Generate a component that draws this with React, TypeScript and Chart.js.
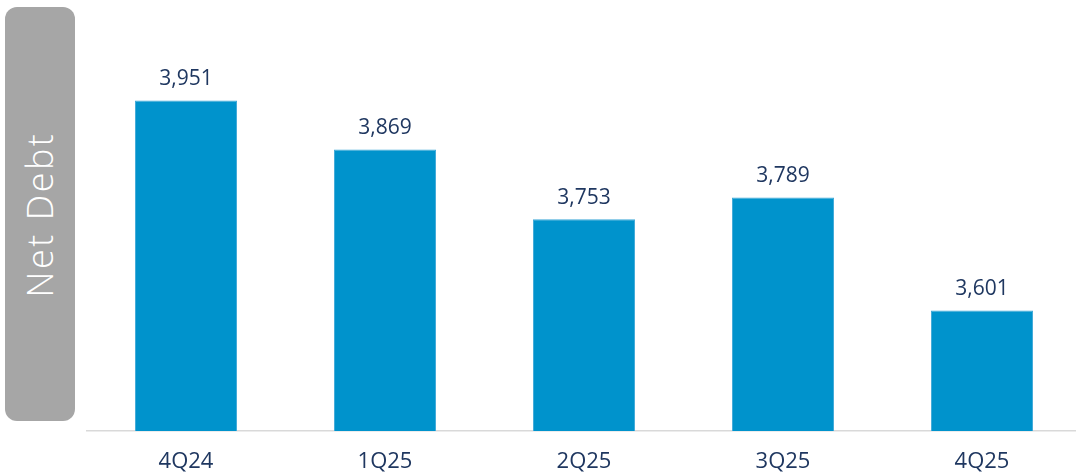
import React, { useEffect, useRef } from "react";
import { Chart, registerables } from "chart.js";

Chart.register(...registerables);

const categories: string[] = ["4Q24", "1Q25", "2Q25", "3Q25", "4Q25"];
const netDebt: number[] = [3951, 3869, 3753, 3789, 3601];
const axisTitle = "Net Debt";

const FONT = "'Open Sans', 'DejaVu Sans', sans-serif";

const valueLabels = {
  id: "valueLabels",
  afterDatasetsDraw(chart: any) {
    const ctx = chart.ctx;
    const meta = chart.getDatasetMeta(0);
    ctx.save();
    ctx.font = `400 21px ${FONT}`;
    ctx.fillStyle = "#1F3760";
    ctx.textAlign = "center";
    ctx.textBaseline = "bottom";
    meta.data.forEach((bar: any, i: number) => {
      const v = chart.data.datasets[0].data[i] as number;
      ctx.fillText(v.toLocaleString("en-US"), bar.x, bar.y - 11);
    });
    ctx.restore();
  },
};

export default function App() {
  const ref = useRef<HTMLCanvasElement | null>(null);

  useEffect(() => {
    if (!ref.current) return;
    const chart = new Chart(ref.current, {
      type: "bar",
      data: {
        labels: categories,
        datasets: [
          {
            data: netDebt,
            backgroundColor: "#0093CC",
            borderColor: "#3FA9D8",
            borderWidth: 1,
            categoryPercentage: 1,
            barPercentage: 0.513,
          },
        ],
      },
      options: {
        animation: false,
        responsive: false,
        maintainAspectRatio: false,
        layout: { padding: { left: 86.5, right: 8.5, top: 71, bottom: 0 } },
        plugins: {
          legend: { display: false },
          tooltip: { enabled: false },
        },
        scales: {
          x: {
            grid: { display: false, drawTicks: false },
            border: { display: true, color: "#D9D9D9", width: 1.5 },
            ticks: {
              color: "#1F3760",
              font: { family: FONT, size: 22, weight: "400" },
              padding: 18,
            },
            afterFit(scale: any) {
              scale.height = 43;
            },
          },
          y: {
            display: false,
            min: 3400,
            max: 4000,
          },
        },
      },
      plugins: [valueLabels],
    });
    return () => chart.destroy();
  }, []);

  return (
    <div
      style={{
        position: "absolute",
        left: 0,
        top: 0,
        width: 1076,
        height: 474,
        overflow: "hidden",
        background: "#ffffff",
      }}
    >
      <div
        style={{
          position: "absolute",
          left: 5,
          top: 7,
          width: 70,
          height: 414,
          borderRadius: 12,
          background: "#A6A6A6",
          display: "flex",
          alignItems: "center",
          justifyContent: "center",
        }}
      >
        <span
          style={{
            transform: "rotate(-90deg)",
            whiteSpace: "nowrap",
            color: "#ffffff",
            fontFamily: FONT,
            fontWeight: 300,
            fontSize: 36,
            letterSpacing: 2.5,
          }}
        >
          {axisTitle}
        </span>
      </div>
      <canvas
        ref={ref}
        width={1090}
        height={474}
        style={{ position: "absolute", left: 0, top: 0, width: 1090, height: 474 }}
      />
    </div>
  );
}
